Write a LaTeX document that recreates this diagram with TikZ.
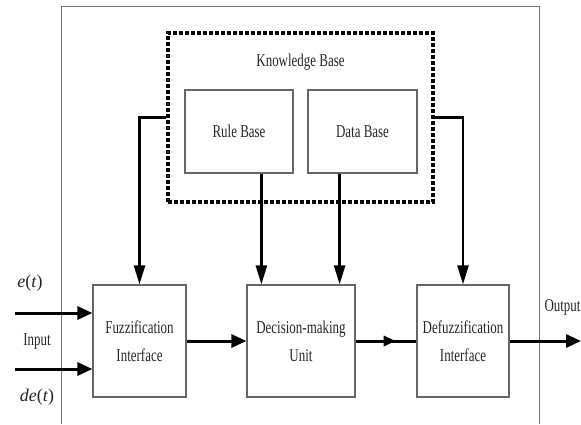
\documentclass[tikz,border=0pt]{standalone}
\usepackage{fontspec}
\setmainfont{Liberation Serif}
\usetikzlibrary{arrows.meta,decorations.markings}

% narrow text, as in the scanned figure
\newcommand{\nrw}[1]{\scalebox{0.72}[1]{#1}}

\begin{document}
\begin{tikzpicture}[
    x = 1pt, y = -1pt,
    txt/.style = {font = \fontsize{18}{28}\selectfont, text = black!85, align = center},
    block/.style = {txt, draw = black!60, line width = 1.2pt, inner sep = 0pt, minimum height = 112pt},
    base/.style = {txt, draw = black!60, line width = 1.2pt, inner sep = 0pt, minimum height = 83pt},
    kbox/.style = {draw = black, line width = 3.4pt, dash pattern = on 4pt off 2pt, minimum width = 265pt, minimum height = 169pt},
    frame/.style = {draw = black!55, line width = 0.9pt},
    flow/.style = {line width = 3pt, -{Triangle[length = 15pt, width = 13pt]}},
    down/.style = {line width = 2.4pt, -{Triangle[length = 19pt, width = 11pt]}},
    flowmid/.style = {line width = 3pt, postaction = {decorate},
        decoration = {markings, mark = at position 0.66 with {\arrow{Triangle[length = 12pt, width = 10pt]}}}}]

\useasboundingbox (0,0) rectangle (581,424);

% outer frame
\draw[frame] (61,424) -- (61,6) -- (539,6) -- (539,424);

% knowledge base
\node[kbox] (kb) at (300.5,117.5) {};
\node[txt] (kbtitle) at (300.5,62) {\nrw{Knowledge Base}};
\node[base, minimum width = 108pt] (rule) at (239,131.5) {\nrw{Rule Base}};
\node[base, minimum width = 109pt] (data) at (362.5,131.5) {\nrw{Data Base}};

% main chain
\node[block, minimum width = 93pt] (fuzz) at (139.5,341) {\nrw{Fuzzification}\\\nrw{Interface}};
\node[block, minimum width = 108pt] (dec) at (301,341) {\nrw{Decision-making}\\\nrw{Unit}};
\node[block, minimum width = 92pt] (defuzz) at (463,341) {\nrw{Defuzzification}\\\nrw{Interface}};

% inputs and output
\node[txt] (et) at (30,283) {\textit{e}(\textit{t})};
\node[txt] (inp) at (37,342) {\nrw{Input}};
\node[txt] (det) at (37,397) {\textit{de}(\textit{t})};
\node[txt, anchor = west] (outp) at (541,307) {\nrw{Output}};
\coordinate (in1) at (15,313);
\coordinate (in2) at (15,369);
\coordinate (out) at (581,341);

\coordinate (dIn1) at ([xshift = 15pt]dec.north west);
\coordinate (dIn2) at ([xshift = -16pt]dec.north east);

\draw[flow] (in1) -- (in1 -| fuzz.west);
\draw[flow] (in2) -- (in2 -| fuzz.west);
\draw[flow] (fuzz.east) -- (dec.west);
\draw[flowmid] (dec.east) -- (defuzz.west);
\draw[flow] (defuzz.east) -- (out);

\draw[down] (kb.west) -| (fuzz.north);
\draw[down] (kb.east) -| (defuzz.north);
\draw[down] (rule.south -| dIn1) -- (dIn1);
\draw[down] (data.south -| dIn2) -- (dIn2);
\end{tikzpicture}
\end{document}
